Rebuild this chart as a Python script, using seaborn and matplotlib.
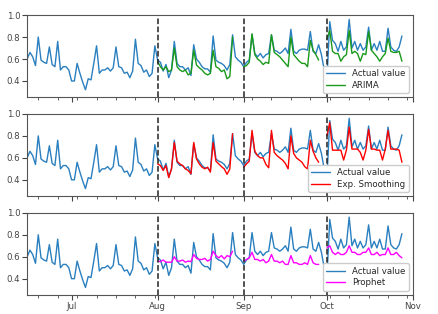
import numpy as np
import pandas as pd
import matplotlib
matplotlib.use("Agg")
import matplotlib.pyplot as plt
import matplotlib.dates as mdates
import seaborn as sns

sns.set_theme(style="ticks")
plt.rcParams['font.family'] = ['DejaVu Sans']
plt.rcParams['font.size'] = 6.2

# daily actual values, 2019-06-15 .. 2019-10-28
actual = [0.60, 0.66, 0.62, 0.54, 0.80, 0.59, 0.57, 0.56, 0.71, 0.55,
          0.53, 0.76, 0.50, 0.53, 0.53, 0.50, 0.40, 0.40, 0.56, 0.47,
          0.39, 0.32, 0.42, 0.41, 0.56, 0.72, 0.47, 0.50, 0.50, 0.52,
          0.49, 0.52, 0.71, 0.53, 0.52, 0.47, 0.48, 0.43, 0.49, 0.78,
          0.56, 0.54, 0.48, 0.50, 0.44, 0.47, 0.72, 0.59, 0.57, 0.49,
          0.55, 0.43, 0.50, 0.76, 0.56, 0.53, 0.53, 0.50, 0.52, 0.45,
          0.73, 0.60, 0.57, 0.53, 0.51, 0.51, 0.48, 0.81, 0.59, 0.57,
          0.56, 0.54, 0.50, 0.55, 0.82, 0.62, 0.59, 0.57, 0.53, 0.57,
          0.59, 0.82, 0.65, 0.62, 0.65, 0.61, 0.64, 0.65, 0.82, 0.68,
          0.67, 0.65, 0.67, 0.70, 0.65, 0.87, 0.67, 0.65, 0.68, 0.69,
          0.69, 0.68, 0.85, 0.67, 0.65, 0.73, 0.64, 0.50, 0.42, 0.94,
          0.77, 0.74, 0.67, 0.76, 0.68, 0.71, 0.96, 0.70, 0.76, 0.68,
          0.74, 0.68, 0.71, 0.89, 0.68, 0.74, 0.68, 0.76, 0.67, 0.67,
          0.88, 0.71, 0.68, 0.67, 0.71, 0.81]

# 28-day forecasts starting on the 1st of Aug, Sep, Oct
arima_aug = [0.575, 0.53, 0.50, 0.53, 0.485, 0.50, 0.70, 0.53, 0.50, 0.485, 0.50, 0.455, 0.47, 0.68,
             0.545, 0.52, 0.50, 0.47, 0.455, 0.47, 0.68, 0.53, 0.515, 0.485, 0.50, 0.42, 0.44, 0.80]
arima_sep = [0.53, 0.54, 0.57, 0.83, 0.64, 0.60, 0.58, 0.55, 0.57, 0.56, 0.82, 0.66, 0.64, 0.62,
             0.59, 0.56, 0.53, 0.80, 0.64, 0.61, 0.58, 0.56, 0.56, 0.53, 0.77, 0.68, 0.64, 0.59]
arima_oct = [0.78, 0.86, 0.67, 0.65, 0.65, 0.58, 0.62, 0.64, 0.86, 0.65, 0.67, 0.65, 0.58, 0.65,
             0.64, 0.85, 0.68, 0.65, 0.62, 0.58, 0.62, 0.65, 0.79, 0.67, 0.66, 0.66, 0.67, 0.58]

es_aug = [0.545, 0.53, 0.485, 0.53, 0.42, 0.50, 0.74, 0.57, 0.545, 0.53, 0.50, 0.485, 0.455, 0.74,
          0.59, 0.545, 0.515, 0.50, 0.515, 0.47, 0.74, 0.57, 0.545, 0.52, 0.50, 0.45, 0.50, 0.82]
es_sep = [0.515, 0.545, 0.57, 0.85, 0.66, 0.62, 0.60, 0.60, 0.54, 0.51, 0.85, 0.65, 0.62, 0.60,
          0.58, 0.55, 0.50, 0.80, 0.64, 0.60, 0.58, 0.56, 0.52, 0.50, 0.76, 0.66, 0.60, 0.56]
es_oct = [0.80, 0.92, 0.67, 0.67, 0.67, 0.67, 0.58, 0.67, 0.88, 0.68, 0.68, 0.68, 0.65, 0.58,
          0.67, 0.86, 0.68, 0.68, 0.67, 0.67, 0.58, 0.68, 0.85, 0.68, 0.68, 0.68, 0.67, 0.56]

prophet_aug = [0.56, 0.555, 0.57, 0.55, 0.55, 0.55, 0.60, 0.56, 0.56, 0.57, 0.55, 0.56, 0.555, 0.62,
               0.585, 0.575, 0.575, 0.585, 0.56, 0.575, 0.65, 0.61, 0.59, 0.61, 0.58, 0.61, 0.60, 0.65]
prophet_sep = [0.56, 0.575, 0.59, 0.64, 0.575, 0.575, 0.56, 0.575, 0.545, 0.56, 0.62, 0.56, 0.56, 0.545,
               0.56, 0.53, 0.53, 0.61, 0.545, 0.545, 0.53, 0.53, 0.545, 0.53, 0.61, 0.545, 0.53, 0.53]
prophet_oct = [0.68, 0.70, 0.64, 0.62, 0.64, 0.62, 0.62, 0.64, 0.70, 0.64, 0.64, 0.62, 0.62, 0.64,
               0.64, 0.68, 0.62, 0.62, 0.64, 0.61, 0.62, 0.62, 0.68, 0.62, 0.62, 0.64, 0.61, 0.59]

month_starts = ["2019-08-01", "2019-09-01", "2019-10-01"]

models = [
    ("ARIMA", "#1a9a1a", [arima_aug, arima_sep, arima_oct]),
    ("Exp. Smoothing", "red", [es_aug, es_sep, es_oct]),
    ("Prophet", "magenta", [prophet_aug, prophet_sep, prophet_oct]),
]

dates = pd.date_range("2019-06-15", periods=len(actual), freq="D")
df_actual = pd.DataFrame({"date": dates, "value": actual})

fig, axes = plt.subplots(3, 1, figsize=(4.38, 3.14), dpi=100, sharex=True)
fig.subplots_adjust(left=0.062, right=0.943, top=0.952, bottom=0.06, hspace=0.2)

for ax, (name, color, fcs) in zip(axes, models):
    sns.lineplot(data=df_actual, x="date", y="value", ax=ax, color="#2a7fbf", lw=1.0)
    for start, vals in zip(month_starts, fcs):
        seg = pd.DataFrame({"date": pd.date_range(start, periods=len(vals), freq="D"), "value": vals})
        sns.lineplot(data=seg, x="date", y="value", ax=ax, color=color, lw=1.0)
    for start in month_starts:
        ax.axvline(pd.Timestamp(start), color="#222222", ls="--", lw=1.1)
    ax.set_ylim(0.25, 1.0)
    ax.set_yticks([0.4, 0.6, 0.8, 1.0])
    ax.set_xlim(pd.Timestamp("2019-06-15"), pd.Timestamp("2019-11-01"))
    ax.set_xlabel("")
    ax.set_ylabel("")
    ax.xaxis.set_major_locator(mdates.MonthLocator())
    ax.xaxis.set_major_formatter(mdates.DateFormatter("%b"))
    ax.xaxis.set_minor_locator(mdates.WeekdayLocator(byweekday=mdates.WE))
    ax.tick_params(axis="both", which="major", length=3.5, width=0.8, colors="#444444", labelsize=6.2, pad=1.5)
    ax.tick_params(axis="x", which="minor", length=2, width=0.6, colors="#444444")
    for s in ax.spines.values():
        s.set_color("#555555")
        s.set_linewidth(0.8)
    lines = ax.get_lines()
    ax.legend([lines[0], lines[1]], ["Actual value", name], loc="lower right",
              fontsize=6.2, frameon=True, edgecolor="#cccccc", framealpha=1.0,
              handlelength=2.2, borderpad=0.4, labelspacing=0.3)

fig.savefig("out.png", dpi=100)
